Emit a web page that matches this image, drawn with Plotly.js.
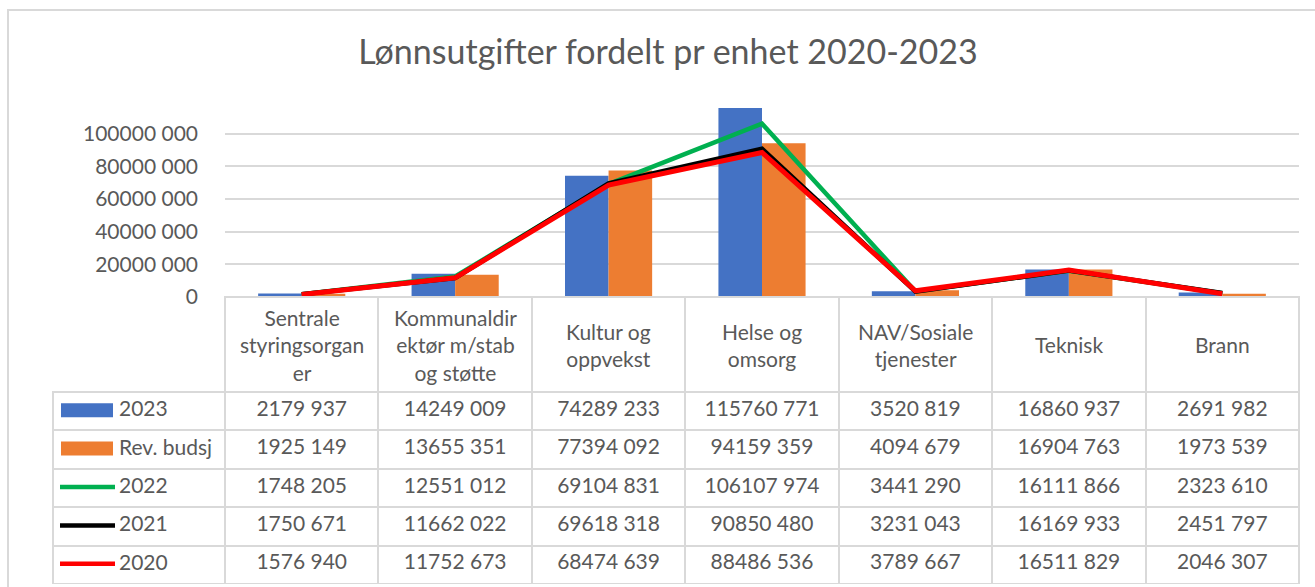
<!DOCTYPE html>
<html>
<head>
<meta charset="utf-8">
<script src="https://cdn.plot.ly/plotly-3.0.1.min.js"></script>
<style>html,body{margin:0;padding:0;background:#fff;}#chart{width:1315px;height:587px;}</style>
</head>
<body>
<div id="chart"></div>
<script>
// ---- data ----
var categories = ["Sentrale styringsorganer", "Kommunaldirektør m/stab og støtte", "Kultur og oppvekst", "Helse og omsorg", "NAV/Sosiale tjenester", "Teknisk", "Brann"];
var categoryLabels = ["Sentrale<br>styringsorgan<br>er", "Kommunaldir<br>ektør m/stab<br>og støtte", "Kultur og<br>oppvekst", "Helse og<br>omsorg", "NAV/Sosiale<br>tjenester", "Teknisk", "Brann"];
var seriesNames = ["2023", "Rev. budsj", "2022", "2021", "2020"];
var v2023 = [2179937, 14249009, 74289233, 115760771, 3520819, 16860937, 2691982];
var vRevBudsj = [1925149, 13655351, 77394092, 94159359, 4094679, 16904763, 1973539];
var v2022 = [1748205, 12551012, 69104831, 106107974, 3441290, 16111866, 2323610];
var v2021 = [1750671, 11662022, 69618318, 90850480, 3231043, 16169933, 2451797];
var v2020 = [1576940, 11752673, 68474639, 88486536, 3789667, 16511829, 2046307];
var yTicks = [0, 20000000, 40000000, 60000000, 80000000, 100000000];

// ---- helpers ----
function fmt(v) {
  if (v < 1000) return String(v);
  return Math.floor(v / 1000) + " " + String(v % 1000).padStart(3, "0");
}
var TXT = "#595959";
var FONT = "Lato, 'Open Sans', sans-serif";
var GRID = "#D9D9D9";
var W = 1315, H = 587;
var mL = 53, mR = 16, mT = 101, mB = 3;
var pw = W - mL - mR, ph = H - mT - mB;
function px(x) { return (x - mL) / pw; }
function py(y) { return (H - mB - y) / ph; }
var plotLeft = 225, axisBottom = 297, headerBottom = 392;
var rowH = (H - mB - headerBottom) / 5;

var colors = ["#4472C4", "#ED7D31", "#00B050", "#000000", "#FF0000"];
var allValues = [v2023, vRevBudsj, v2022, v2021, v2020];

var traces = [
  {type: "bar", name: seriesNames[0], x: categories, y: v2023, marker: {color: colors[0]}, xaxis: "x", yaxis: "y"},
  {type: "bar", name: seriesNames[1], x: categories, y: vRevBudsj, marker: {color: colors[1]}, xaxis: "x", yaxis: "y"},
  {type: "scatter", mode: "lines", name: seriesNames[2], x: categories, y: v2022, line: {color: colors[2], width: 4.5}, xaxis: "x", yaxis: "y"},
  {type: "scatter", mode: "lines", name: seriesNames[3], x: categories, y: v2021, line: {color: colors[3], width: 4.5}, xaxis: "x", yaxis: "y"},
  {type: "scatter", mode: "lines", name: seriesNames[4], x: categories, y: v2020, line: {color: colors[4], width: 5}, xaxis: "x", yaxis: "y"}
];

// data table
var colW = [plotLeft - mL];
var headerVals = [""];
var cellVals = [seriesNames.map(function () { return ""; })];
var hdrLineColors = ["rgba(0,0,0,0)"];
var hdrFill = ["rgba(0,0,0,0)"];
for (var c = 0; c < categories.length; c++) {
  colW.push((W - mR - plotLeft) / categories.length);
  headerVals.push("");
  cellVals.push(allValues.map(function (arr) { return fmt(arr[c]); }));
  hdrLineColors.push(GRID);
  hdrFill.push("#ffffff");
}
traces.push({
  type: "table",
  domain: {x: [0, 1], y: [0, py(axisBottom)]},
  columnwidth: colW,
  header: {values: headerVals, height: headerBottom - axisBottom, fill: {color: hdrFill}, line: {color: hdrLineColors, width: 2}, font: {family: FONT, size: 21, color: TXT}},
  cells: {values: cellVals, height: rowH, align: "center", fill: {color: "#ffffff"}, line: {color: GRID, width: 2}, font: {family: FONT, size: 21, color: TXT}}
});

var shapes = [
  {type: "rect", xref: "paper", yref: "paper", x0: px(8), x1: px(1318), y0: py(600), y1: py(10), line: {color: GRID, width: 2}, fillcolor: "rgba(0,0,0,0)", layer: "below"}
];
var annotations = [];
// header labels
for (var k = 0; k < categories.length; k++) {
  annotations.push({xref: "x", yref: "paper", x: categories[k], y: py((axisBottom + headerBottom) / 2), text: categoryLabels[k], showarrow: false, xanchor: "center", yanchor: "middle", align: "center", font: {family: FONT, size: 21, color: TXT}});
}
// legend keys
for (var s = 0; s < seriesNames.length; s++) {
  var cy = headerBottom + rowH * (s + 0.5);
  if (s < 2) {
    shapes.push({type: "rect", xref: "paper", yref: "paper", x0: px(61), x1: px(113), y0: py(cy + 6), y1: py(cy - 8), fillcolor: colors[s], line: {width: 0}});
  } else {
    shapes.push({type: "line", xref: "paper", yref: "paper", x0: px(60), x1: px(115), y0: py(cy - 1), y1: py(cy - 1), line: {color: colors[s], width: 4.5}});
  }
  annotations.push({xref: "paper", yref: "paper", x: px(117), y: py(cy - 3.5), text: seriesNames[s], showarrow: false, xanchor: "left", yanchor: "middle", font: {family: FONT, size: 21, color: TXT}});
}

var layout = {
  width: W, height: H,
  margin: {l: mL, r: mR, t: mT, b: mB, pad: 0},
  paper_bgcolor: "#ffffff", plot_bgcolor: "#ffffff",
  showlegend: false,
  barmode: "group", bargap: 0.432, bargroupgap: 0,
  title: {text: "Lønnsutgifter fordelt pr enhet 2020-2023", xref: "container", yref: "container", x: 0.508, y: 1 - 52 / H, xanchor: "center", yanchor: "middle", font: {family: FONT, size: 34, color: TXT}},
  xaxis: {domain: [px(plotLeft), 1], type: "category", showticklabels: false, ticks: "", showgrid: false, zeroline: false, showline: false, fixedrange: true},
  yaxis: {domain: [py(axisBottom), 1], range: [0, 120000000], tickvals: yTicks, ticktext: yTicks.map(fmt), tickfont: {family: FONT, size: 21, color: TXT}, showgrid: true, gridcolor: GRID, gridwidth: 2, zeroline: false, showline: false, ticks: "", ticklabelstandoff: 26},
  shapes: shapes,
  annotations: annotations,
  font: {family: FONT, color: TXT}
};

Plotly.newPlot("chart", traces, layout, {displayModeBar: false, staticPlot: true});
</script>
</body>
</html>
